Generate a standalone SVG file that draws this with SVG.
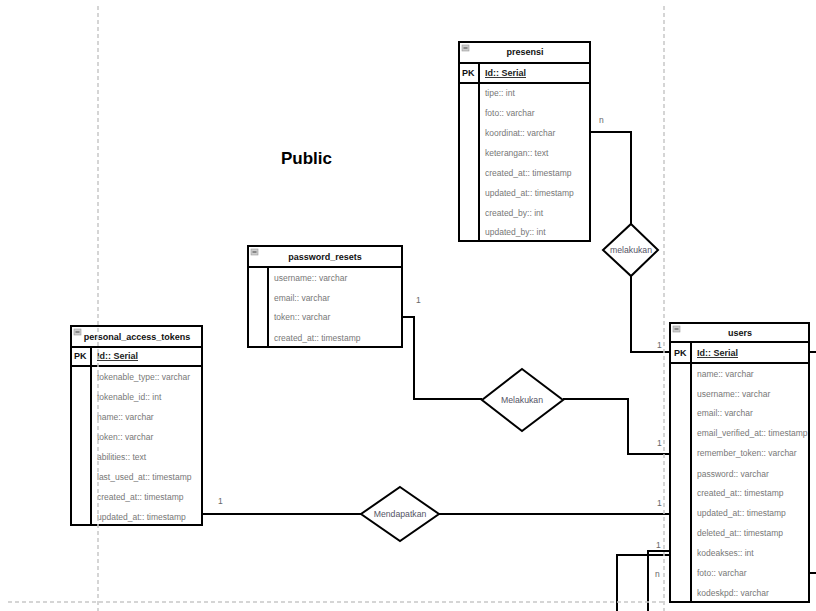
<svg xmlns="http://www.w3.org/2000/svg" width="816" height="611" viewBox="0 0 816 611">
  <style>
    .tbl { fill: #fff; stroke: #000; stroke-width: 2; }
    .sep { stroke: #000; stroke-width: 2; fill: none; }
    .ico { fill: #ccc; stroke: #999; stroke-width: 0.6; }
    .icl { stroke: #444; stroke-width: 1; }
    .hd  { font-family: "Liberation Sans", Arial, sans-serif; font-size: 9px; font-weight: bold; fill: #111; text-anchor: middle; }
    .pk  { font-family: "Liberation Sans", Arial, sans-serif; font-size: 9px; font-weight: bold; fill: #111; }
    .id  { font-family: "Liberation Sans", Arial, sans-serif; font-size: 9px; font-weight: bold; fill: #222; text-decoration: underline; }
    .at  { font-family: "Liberation Sans", Arial, sans-serif; font-size: 8.5px; fill: #777; }
    .card { font-family: "Liberation Sans", Arial, sans-serif; font-size: 8.5px; fill: #666; }
    .rel { fill: #fff; stroke: #000; stroke-width: 2; }
    .rt  { font-family: "Liberation Sans", Arial, sans-serif; font-size: 8.7px; fill: #556; text-anchor: middle; }
    .ln  { fill: none; stroke: #000; stroke-width: 2; }
    .dash { stroke: #c8c8c8; stroke-width: 1.5; stroke-dasharray: 4 3; fill: none; }
    .title { font-family: "Liberation Sans", Arial, sans-serif; font-size: 17px; font-weight: bold; fill: #000; }
  </style>

  <rect width="816" height="611" fill="#fff"/>

  <text class="title" x="281" y="164">Public</text>

  <!-- connectors -->
  <g id="connectors">
    <path class="ln" d="M590,132 H631 V224"/>
    <path class="ln" d="M631,276 V352 H670"/>
    <path class="ln" d="M402,317 H414 V399 H482"/>
    <path class="ln" d="M563,399 H628 V454 H670"/>
    <path class="ln" d="M202,514 H361"/>
    <path class="ln" d="M439,514 H670"/>
    <path class="ln" d="M670,551 H648 V611"/>
    <path class="ln" d="M670,555 H617 V611"/>
    <path class="ln" d="M809,352 H816"/>
    <path class="ln" d="M809,573 H816"/>
    <text class="card" x="599" y="123">n</text>
    <text class="card" x="657" y="348">1</text>
    <text class="card" x="416" y="303">1</text>
    <text class="card" x="657" y="446">1</text>
    <text class="card" x="218" y="504">1</text>
    <text class="card" x="657" y="506">1</text>
    <text class="card" x="656" y="548">1</text>
    <text class="card" x="655" y="577">n</text>
  </g>

  <!-- relationships -->
  <g id="rel-melakukan-presensi">
    <polygon class="rel" points="631,224 658,250 631,276 603,250"/>
    <text class="rt" x="631" y="253">melakukan</text>
  </g>
  <g id="rel-melakukan-reset">
    <polygon class="rel" points="522,369 563,400 522,431 482,400"/>
    <text class="rt" x="522" y="403">Melakukan</text>
  </g>
  <g id="rel-mendapatkan">
    <polygon class="rel" points="400,487 439,514 400,541 361,514"/>
    <text class="rt" x="400" y="517">Mendapatkan</text>
  </g>

  <!-- presensi -->
  <g id="presensi">
    <rect class="tbl" x="459" y="42" width="131" height="199"/>
    <line class="sep" x1="459" y1="63" x2="590" y2="63"/>
    <line class="sep" x1="459" y1="83" x2="590" y2="83"/>
    <line class="sep" x1="479" y1="63" x2="479" y2="241"/>
    <rect class="ico" x="462" y="45" width="7" height="6"/>
    <line class="icl" x1="463.5" y1="48" x2="467.5" y2="48"/>
    <text class="hd" x="525" y="55">presensi</text>
    <text class="pk" x="462" y="76">PK</text>
    <text class="id" x="485" y="76">Id:: Serial</text>
    <text class="at" x="485" y="96">tipe:: int</text>
    <text class="at" x="485" y="116">foto:: varchar</text>
    <text class="at" x="485" y="136">koordinat:: varchar</text>
    <text class="at" x="485" y="156">keterangan:: text</text>
    <text class="at" x="485" y="176">created_at:: timestamp</text>
    <text class="at" x="485" y="196">updated_at:: timestamp</text>
    <text class="at" x="485" y="216">created_by:: int</text>
    <text class="at" x="485" y="235">updated_by:: int</text>
  </g>

  <!-- password_resets -->
  <g id="password_resets">
    <rect class="tbl" x="248" y="246" width="154" height="101"/>
    <line class="sep" x1="248" y1="267" x2="402" y2="267"/>
    <line class="sep" x1="268" y1="267" x2="268" y2="347"/>
    <rect class="ico" x="251" y="249" width="7" height="6"/>
    <line class="icl" x1="252.5" y1="252" x2="256.5" y2="252"/>
    <text class="hd" x="325" y="260">password_resets</text>
    <text class="at" x="274" y="281">username:: varchar</text>
    <text class="at" x="274" y="301">email:: varchar</text>
    <text class="at" x="274" y="320">token:: varchar</text>
    <text class="at" x="274" y="341">created_at:: timestamp</text>
  </g>

  <!-- personal_access_tokens -->
  <g id="personal_access_tokens">
    <rect class="tbl" x="71" y="326" width="131" height="199"/>
    <line class="sep" x1="71" y1="347" x2="202" y2="347"/>
    <line class="sep" x1="71" y1="366" x2="202" y2="366"/>
    <line class="sep" x1="91" y1="347" x2="91" y2="525"/>
    <rect class="ico" x="74" y="329" width="7" height="6"/>
    <line class="icl" x1="75.5" y1="332" x2="79.5" y2="332"/>
    <text class="hd" x="137" y="340">personal_access_tokens</text>
    <text class="pk" x="74" y="359">PK</text>
    <text class="id" x="97" y="359">Id:: Serial</text>
    <text class="at" x="97" y="380">tokenable_type:: varchar</text>
    <text class="at" x="97" y="400">tokenable_id:: int</text>
    <text class="at" x="97" y="420">name:: varchar</text>
    <text class="at" x="97" y="440">token:: varchar</text>
    <text class="at" x="97" y="460">abilities:: text</text>
    <text class="at" x="97" y="480">last_used_at:: timestamp</text>
    <text class="at" x="97" y="500">created_at:: timestamp</text>
    <text class="at" x="97" y="520">updated_at:: timestamp</text>
  </g>

  <!-- users -->
  <g id="users">
    <rect class="tbl" x="670" y="323" width="139" height="279"/>
    <line class="sep" x1="670" y1="342" x2="809" y2="342"/>
    <line class="sep" x1="670" y1="363" x2="809" y2="363"/>
    <line class="sep" x1="691" y1="342" x2="691" y2="602"/>
    <rect class="ico" x="673" y="326" width="7" height="6"/>
    <line class="icl" x1="674.5" y1="329" x2="678.5" y2="329"/>
    <text class="hd" x="740" y="336">users</text>
    <text class="pk" x="674" y="356">PK</text>
    <text class="id" x="697" y="356">Id:: Serial</text>
    <text class="at" x="697" y="377">name:: varchar</text>
    <text class="at" x="697" y="397">username:: varchar</text>
    <text class="at" x="697" y="416">email:: varchar</text>
    <text class="at" x="697" y="436">email_verified_at:: timestamp</text>
    <text class="at" x="697" y="456">remember_token:: varchar</text>
    <text class="at" x="697" y="477">password:: varchar</text>
    <text class="at" x="697" y="496">created_at:: timestamp</text>
    <text class="at" x="697" y="516">updated_at:: timestamp</text>
    <text class="at" x="697" y="536">deleted_at:: timestamp</text>
    <text class="at" x="697" y="556">kodeakses:: int</text>
    <text class="at" x="697" y="576">foto:: varchar</text>
    <text class="at" x="697" y="596">kodeskpd:: varchar</text>
  </g>

  <!-- page boundaries -->
  <g id="page-breaks">
    <line class="dash" x1="98" y1="6" x2="98" y2="611"/>
    <line class="dash" x1="664" y1="6" x2="664" y2="611"/>
    <line class="dash" x1="8" y1="602" x2="664" y2="602"/>
  </g>
</svg>
